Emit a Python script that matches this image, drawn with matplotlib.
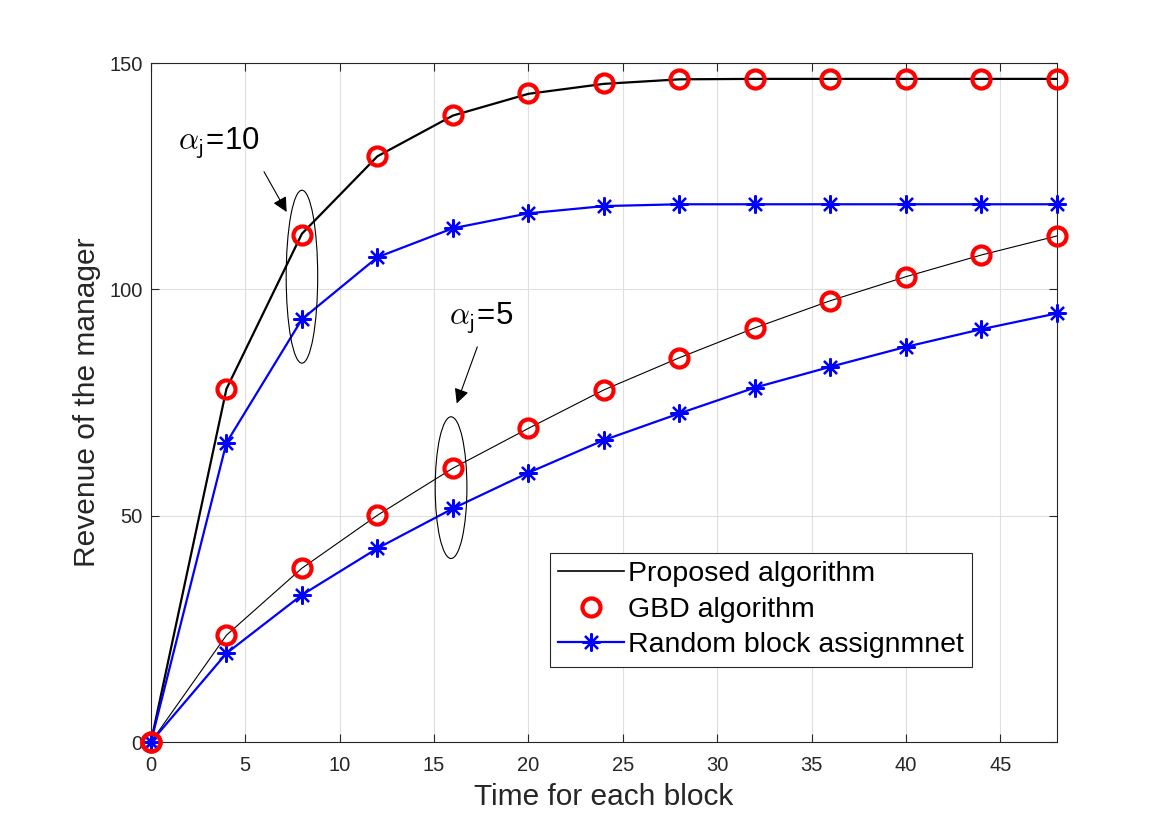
import matplotlib
matplotlib.use("Agg")
import matplotlib.pyplot as plt
from matplotlib.patches import Ellipse
from matplotlib.lines import Line2D

plt.rcParams['font.family'] = ['Liberation Sans', 'DejaVu Sans']
plt.rcParams['mathtext.fontset'] = 'cm'

# ---- data ----
t = [0, 4, 8, 12, 16, 20, 24, 28, 32, 36, 40, 44, 48]

proposed_a10 = [0, 78.0, 112.3, 129.4, 138.4, 143.2, 145.4, 146.4, 146.5, 146.5, 146.5, 146.5, 146.5]
gbd_a10      = [0, 78.0, 112.0, 129.4, 138.5, 143.3, 145.5, 146.4, 146.5, 146.5, 146.5, 146.5, 146.5]
random_a10   = [0, 66.1, 93.4, 107.1, 113.5, 116.8, 118.4, 118.8, 118.8, 118.8, 118.8, 118.8, 118.8]

proposed_a5 = [0, 23.6, 38.4, 50.1, 60.5, 69.3, 77.8, 84.9, 91.5, 97.5, 102.8, 107.6, 111.8]
gbd_a5      = [0, 23.6, 38.4, 50.1, 60.5, 69.3, 77.8, 84.9, 91.5, 97.5, 102.8, 107.6, 111.8]
random_a5   = [0, 19.6, 32.5, 42.8, 51.6, 59.5, 66.7, 72.6, 78.3, 82.9, 87.3, 91.2, 94.7]

xticks = [0, 5, 10, 15, 20, 25, 30, 35, 40, 45]
yticks = [0, 50, 100, 150]
legend_labels = ['Proposed algorithm', 'GBD algorithm', 'Random block assignmnet']
xlabel = 'Time for each block'
ylabel = 'Revenue of the manager'

# ---- styles ----
dark = '#262626'
star = (8, 2, 0)

fig = plt.figure(figsize=(11.61, 8.36), dpi=100)
ax = fig.add_axes([0.130, 0.1124, 0.7804, 0.8122])

ax.plot(t, proposed_a10, color='k', lw=1.6, zorder=3)
ax.plot(t, random_a10, color='b', lw=1.6, marker=star, ms=13, mew=1.6, zorder=3, clip_on=False)
ax.plot(t, gbd_a10, ls='none', marker='o', ms=13, mew=3, mfc='none', mec='r', zorder=4, clip_on=False)

ax.plot(t, proposed_a5, color='k', lw=0.8, zorder=3)
ax.plot(t, random_a5, color='b', lw=1.6, marker=star, ms=13, mew=1.6, zorder=3, clip_on=False)
ax.plot(t, gbd_a5, ls='none', marker='o', ms=13, mew=3, mfc='none', mec='r', zorder=4, clip_on=False)

ax.set_xlim(0, 48)
ax.set_ylim(0, 150)
ax.set_xticks(xticks)
ax.set_yticks(yticks)
ax.grid(True, color='#dfdfdf', lw=0.8)
ax.set_axisbelow(True)
ax.tick_params(direction='in', length=6, width=0.8, colors=dark, labelsize=14.5,
               top=True, right=True)
ax.tick_params(axis='x', pad=10)
ax.tick_params(axis='y', pad=6)
for s in ax.spines.values():
    s.set_color(dark)
    s.set_linewidth(0.8)

ax.set_xlabel(xlabel, fontsize=21.5, color=dark, labelpad=6)
ax.set_ylabel(ylabel, fontsize=21.5, color=dark, labelpad=6)

# ellipses
ax.add_patch(Ellipse((8.0, 102.8), 1.67, 38.2, fill=False, ec='k', lw=0.8, zorder=5))
ax.add_patch(Ellipse((15.9, 56.2), 1.68, 31.3, fill=False, ec='k', lw=0.8, zorder=5))

# annotations
ax.text(1.45, 130.8, r'$\alpha_{\mathsf{j}}$=10', fontsize=22.5, color='k', ha='left', va='baseline')
ax.text(15.8, 92.1, r'$\alpha_{\mathsf{j}}$=5', fontsize=22.5, color='k', ha='left', va='baseline')
ax.annotate('', xy=(7.19, 117.1), xytext=(5.99, 126.0),
            arrowprops=dict(arrowstyle='-|>', color='k', lw=0.8, mutation_scale=22,
                            shrinkA=0, shrinkB=0))
ax.annotate('', xy=(16.2, 74.8), xytext=(17.29, 87.3),
            arrowprops=dict(arrowstyle='-|>', color='k', lw=0.8, mutation_scale=22,
                            shrinkA=0, shrinkB=0))

handles = [
    Line2D([], [], color='k', lw=1.2),
    Line2D([], [], ls='none', marker='o', ms=13, mew=3, mfc='none', mec='r'),
    Line2D([], [], color='b', lw=1.6, marker=star, ms=13, mew=1.6),
]
leg = ax.legend(handles, legend_labels, loc='lower left', bbox_to_anchor=(0.440, 0.111),
                borderaxespad=0, fontsize=20.5, fancybox=False, framealpha=1,
                edgecolor=dark, handlelength=2.3, handletextpad=0.15,
                labelspacing=0.33, borderpad=0.3)
leg.get_frame().set_linewidth(0.8)
leg.set_zorder(6)

fig.savefig('out.png', dpi=100)
